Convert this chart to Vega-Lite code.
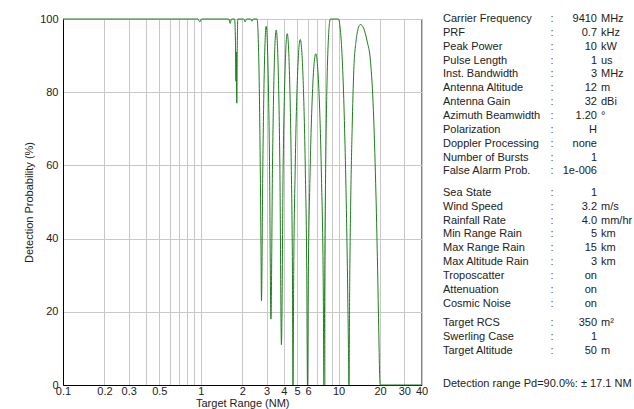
{
  "$schema": "https://vega.github.io/schema/vega-lite/v6.json",
  "padding": {"left": 22, "top": 12, "right": 0, "bottom": 0},
  "background": "white",
  "config": {
    "view": {"stroke": "#000", "strokeWidth": 1},
    "font": "Liberation Sans",
    "text": {"font": "Liberation Sans", "fontSize": 11, "color": "#222", "baseline": "middle"},
    "axis": {
      "labelFont": "Liberation Sans", "titleFont": "Liberation Sans",
      "labelFontSize": 11, "titleFontSize": 11, "titleFontWeight": "normal",
      "labelColor": "#222", "titleColor": "#222", "domainColor": "#000",
      "gridColor": "#c8c8c8", "gridOpacity": 1, "ticks": false
    }
  },
  "datasets": {
    "curve": [
      {"range": 0.1, "pd": 100}, {"range": 0.95, "pd": 100}, {"range": 0.985, "pd": 99.2}, {"range": 1.01, "pd": 100},
      {"range": 1.6, "pd": 100}, {"range": 1.635, "pd": 98.8}, {"range": 1.67, "pd": 100},
      {"range": 1.76, "pd": 100}, {"range": 1.785, "pd": 94}, {"range": 1.8, "pd": 83}, {"range": 1.81, "pd": 91},
      {"range": 1.825, "pd": 77}, {"range": 1.84, "pd": 92}, {"range": 1.855, "pd": 100},
      {"range": 2.05, "pd": 100}, {"range": 2.1, "pd": 99.2}, {"range": 2.15, "pd": 100},
      {"range": 2.3, "pd": 100}, {"range": 2.35, "pd": 99.4}, {"range": 2.4, "pd": 100}, {"range": 2.56, "pd": 100},
      {"range": 2.6, "pd": 97}, {"range": 2.64, "pd": 88}, {"range": 2.68, "pd": 72}, {"range": 2.71, "pd": 55},
      {"range": 2.735, "pd": 38}, {"range": 2.757, "pd": 23},
      {"range": 2.823, "pd": 61}, {"range": 2.891, "pd": 86}, {"range": 2.984, "pd": 98}, {"range": 3.08, "pd": 86},
      {"range": 3.154, "pd": 61}, {"range": 3.23, "pd": 18},
      {"range": 3.316, "pd": 60}, {"range": 3.405, "pd": 85.5}, {"range": 3.527, "pd": 97}, {"range": 3.652, "pd": 85.5},
      {"range": 3.75, "pd": 60}, {"range": 3.85, "pd": 11},
      {"range": 3.963, "pd": 60}, {"range": 4.08, "pd": 84.5}, {"range": 4.24, "pd": 96}, {"range": 4.407, "pd": 84.5},
      {"range": 4.537, "pd": 60}, {"range": 4.625, "pd": 32}, {"range": 4.67, "pd": 0},
      {"range": 4.727, "pd": 31}, {"range": 4.843, "pd": 58.8}, {"range": 5.022, "pd": 83.2}, {"range": 5.271, "pd": 94.4},
      {"range": 5.533, "pd": 83.2}, {"range": 5.738, "pd": 58.8}, {"range": 5.878, "pd": 31}, {"range": 5.95, "pd": 0},
      {"range": 6.033, "pd": 29.8}, {"range": 6.201, "pd": 56.4}, {"range": 6.463, "pd": 79.7}, {"range": 6.83, "pd": 90.5},
      {"range": 7.217, "pd": 79.7}, {"range": 7.521, "pd": 56.4}, {"range": 7.733, "pd": 29.8}, {"range": 7.84, "pd": 0},
      {"range": 7.95, "pd": 35}, {"range": 8.08, "pd": 62}, {"range": 8.25, "pd": 83}, {"range": 8.45, "pd": 95},
      {"range": 8.6, "pd": 99}, {"range": 8.73, "pd": 100}, {"range": 10.0, "pd": 100}, {"range": 10.2, "pd": 98.5},
      {"range": 10.5, "pd": 93}, {"range": 10.8, "pd": 83}, {"range": 11.1, "pd": 68}, {"range": 11.4, "pd": 48},
      {"range": 11.65, "pd": 26}, {"range": 11.8, "pd": 10}, {"range": 11.9, "pd": 0},
      {"range": 12.05, "pd": 28}, {"range": 12.25, "pd": 50}, {"range": 12.55, "pd": 70}, {"range": 12.9, "pd": 86},
      {"range": 13.4, "pd": 94}, {"range": 13.9, "pd": 97.5}, {"range": 14.4, "pd": 98.5}, {"range": 15.2, "pd": 97.5},
      {"range": 16.1, "pd": 94}, {"range": 17.1, "pd": 88}, {"range": 17.9, "pd": 75}, {"range": 18.6, "pd": 55},
      {"range": 19.2, "pd": 32}, {"range": 19.6, "pd": 14}, {"range": 19.9, "pd": 2}, {"range": 20.1, "pd": 0},
      {"range": 40, "pd": 0}
    ],
    "info": [
      {"group": 1, "label": "Carrier Frequency", "value": "9410", "unit": "MHz"},
      {"group": 1, "label": "PRF", "value": "0.7", "unit": "kHz"},
      {"group": 1, "label": "Peak Power", "value": "10", "unit": "kW"},
      {"group": 1, "label": "Pulse Length", "value": "1", "unit": "us"},
      {"group": 1, "label": "Inst. Bandwidth", "value": "3", "unit": "MHz"},
      {"group": 1, "label": "Antenna Altitude", "value": "12", "unit": "m"},
      {"group": 1, "label": "Antenna Gain", "value": "32", "unit": "dBi"},
      {"group": 1, "label": "Azimuth Beamwidth", "value": "1.20", "unit": "°"},
      {"group": 1, "label": "Polarization", "value": "H", "unit": ""},
      {"group": 1, "label": "Doppler Processing", "value": "none", "unit": ""},
      {"group": 1, "label": "Number of Bursts", "value": "1", "unit": ""},
      {"group": 1, "label": "False Alarm Prob.", "value": "1e-006", "unit": ""},
      {"group": 2, "label": "Sea State", "value": "1", "unit": ""},
      {"group": 2, "label": "Wind Speed", "value": "3.2", "unit": "m/s"},
      {"group": 2, "label": "Rainfall Rate", "value": "4.0", "unit": "mm/hr"},
      {"group": 2, "label": "Min Range Rain", "value": "5", "unit": "km"},
      {"group": 2, "label": "Max Range Rain", "value": "15", "unit": "km"},
      {"group": 2, "label": "Max Altitude Rain", "value": "3", "unit": "km"},
      {"group": 2, "label": "Troposcatter", "value": "on", "unit": ""},
      {"group": 2, "label": "Attenuation", "value": "on", "unit": ""},
      {"group": 2, "label": "Cosmic Noise", "value": "on", "unit": ""},
      {"group": 3, "label": "Target RCS", "value": "350", "unit": "m²"},
      {"group": 3, "label": "Swerling Case", "value": "1", "unit": ""},
      {"group": 3, "label": "Target Altitude", "value": "50", "unit": "m"},
      {"group": 4, "label": "Detection range Pd=90.0%: ± 17.1 NM", "value": "", "unit": ""}
    ]
  },
  "spacing": 14,
  "hconcat": [
    {
      "width": 358.5,
      "height": 366,
      "data": {"name": "curve"},
      "mark": {"type": "line", "color": "#1e7d1e", "strokeWidth": 1, "interpolate": "monotone"},
      "encoding": {
        "x": {
          "field": "range", "type": "quantitative",
          "scale": {"type": "log", "domain": [0.1, 40], "nice": false},
          "axis": {
            "title": "Target Range (NM)",
            "values": [0.1, 0.2, 0.3, 0.4, 0.5, 0.6, 0.7, 0.8, 0.9, 1, 2, 3, 4, 5, 6, 7, 8, 9, 10, 20, 30, 40],
            "format": "~g",
            "labelExpr": "indexof([0.1, 0.2, 0.3, 0.5, 1, 2, 3, 4, 5, 6, 10, 20, 30, 40], datum.value) >= 0 ? datum.label : ''",
            "labelFlush": false, "labelOverlap": false, "labelPadding": 0, "titlePadding": 1
          }
        },
        "y": {
          "field": "pd", "type": "quantitative",
          "scale": {"domain": [0, 100], "nice": false},
          "axis": {"title": "Detection Probability (%)", "values": [0, 20, 40, 60, 80, 100], "labelPadding": 5, "titlePadding": 5.5}
        }
      }
    },
    {
      "width": 190,
      "height": 366,
      "data": {"name": "info"},
      "view": {"stroke": null},
      "resolve": {"scale": {"y": "independent"}},
      "layer": [
        {"transform": [{"filter": "datum.group == 1"}], "mark": {"type": "text", "align": "left"},
         "encoding": {"y": {"field": "label", "type": "nominal", "sort": null, "scale": {"type": "point", "padding": 0, "range": [0, 152.35]}, "axis": null}, "x": {"value": 0}, "text": {"field": "label"}}},
        {"transform": [{"filter": "datum.group == 1"}], "mark": {"type": "text", "align": "center", "color": "#555"},
         "encoding": {"y": {"field": "label", "type": "nominal", "sort": null, "scale": {"type": "point", "padding": 0, "range": [0, 152.35]}, "axis": null}, "x": {"value": 109}, "text": {"value": ":"}}},
        {"transform": [{"filter": "datum.group == 1"}], "mark": {"type": "text", "align": "right"},
         "encoding": {"y": {"field": "label", "type": "nominal", "sort": null, "scale": {"type": "point", "padding": 0, "range": [0, 152.35]}, "axis": null}, "x": {"value": 154}, "text": {"field": "value"}}},
        {"transform": [{"filter": "datum.group == 1"}], "mark": {"type": "text", "align": "left"},
         "encoding": {"y": {"field": "label", "type": "nominal", "sort": null, "scale": {"type": "point", "padding": 0, "range": [0, 152.35]}, "axis": null}, "x": {"value": 158}, "text": {"field": "unit"}}},

        {"transform": [{"filter": "datum.group == 2"}], "mark": {"type": "text", "align": "left"},
         "encoding": {"y": {"field": "label", "type": "nominal", "sort": null, "scale": {"type": "point", "padding": 0, "range": [173.8, 284.6]}, "axis": null}, "x": {"value": 0}, "text": {"field": "label"}}},
        {"transform": [{"filter": "datum.group == 2"}], "mark": {"type": "text", "align": "center", "color": "#555"},
         "encoding": {"y": {"field": "label", "type": "nominal", "sort": null, "scale": {"type": "point", "padding": 0, "range": [173.8, 284.6]}, "axis": null}, "x": {"value": 109}, "text": {"value": ":"}}},
        {"transform": [{"filter": "datum.group == 2"}], "mark": {"type": "text", "align": "right"},
         "encoding": {"y": {"field": "label", "type": "nominal", "sort": null, "scale": {"type": "point", "padding": 0, "range": [173.8, 284.6]}, "axis": null}, "x": {"value": 154}, "text": {"field": "value"}}},
        {"transform": [{"filter": "datum.group == 2"}], "mark": {"type": "text", "align": "left"},
         "encoding": {"y": {"field": "label", "type": "nominal", "sort": null, "scale": {"type": "point", "padding": 0, "range": [173.8, 284.6]}, "axis": null}, "x": {"value": 158}, "text": {"field": "unit"}}},

        {"transform": [{"filter": "datum.group == 3"}], "mark": {"type": "text", "align": "left"},
         "encoding": {"y": {"field": "label", "type": "nominal", "sort": null, "scale": {"type": "point", "padding": 0, "range": [304.4, 332.1]}, "axis": null}, "x": {"value": 0}, "text": {"field": "label"}}},
        {"transform": [{"filter": "datum.group == 3"}], "mark": {"type": "text", "align": "center", "color": "#555"},
         "encoding": {"y": {"field": "label", "type": "nominal", "sort": null, "scale": {"type": "point", "padding": 0, "range": [304.4, 332.1]}, "axis": null}, "x": {"value": 109}, "text": {"value": ":"}}},
        {"transform": [{"filter": "datum.group == 3"}], "mark": {"type": "text", "align": "right"},
         "encoding": {"y": {"field": "label", "type": "nominal", "sort": null, "scale": {"type": "point", "padding": 0, "range": [304.4, 332.1]}, "axis": null}, "x": {"value": 154}, "text": {"field": "value"}}},
        {"transform": [{"filter": "datum.group == 3"}], "mark": {"type": "text", "align": "left"},
         "encoding": {"y": {"field": "label", "type": "nominal", "sort": null, "scale": {"type": "point", "padding": 0, "range": [304.4, 332.1]}, "axis": null}, "x": {"value": 158}, "text": {"field": "unit"}}},

        {"transform": [{"filter": "datum.group == 4"}], "mark": {"type": "text", "align": "left"},
         "encoding": {"y": {"field": "label", "type": "nominal", "scale": {"type": "point", "padding": 0, "range": [365, 365]}, "axis": null}, "x": {"value": 0}, "text": {"field": "label"}}}
      ]
    }
  ]
}
